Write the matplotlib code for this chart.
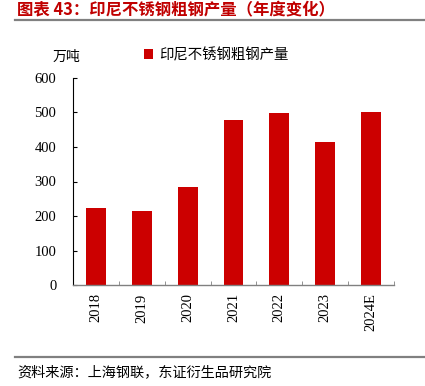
import matplotlib
matplotlib.use("Agg")
import matplotlib.pyplot as plt
from matplotlib.lines import Line2D
import numpy as np

categories = ["2018", "2019", "2020", "2021", "2022", "2023", "2024E"]
values = [222, 214, 283, 478, 498, 415, 501]
yticks = [0, 100, 200, 300, 400, 500, 600]
series_name = "印尼不锈钢粗钢产量"
title = "图表 43：印尼不锈钢粗钢产量（年度变化）"
source = "资料来源：上海钢联，东证衍生品研究院"
unit = "万吨"

cjk = ["Noto Sans CJK SC", "DejaVu Sans"]
serif = ["Liberation Serif", "DejaVu Serif"]
red = "#CC0000"

fig = plt.figure(figsize=(4.25, 3.86), dpi=100)
ax = fig.add_axes([73/425, 1-285/386, 321/425, 207/386])

x = np.arange(len(categories))
ax.bar(x, values, width=0.43, color=red, label=series_name, zorder=2)
ax.set_xlim(-0.5, len(categories) - 0.5)
ax.set_ylim(0, 600)
ax.set_yticks(yticks)
ax.set_yticklabels([str(v) for v in yticks], fontfamily=serif, fontsize=10.5)
ax.set_xticks(x)
ax.set_xticklabels(categories, rotation=90, fontfamily=serif, fontsize=10.5)
ax.tick_params(axis="x", which="major", length=0, pad=6)
ax.set_xticks(np.arange(-0.5, len(categories)), minor=True)
ax.tick_params(axis="x", which="minor", direction="in", length=3, color="#808080")
ax.tick_params(axis="y", direction="in", length=3, pad=12)
for s in ["top", "right"]:
    ax.spines[s].set_visible(False)
ax.spines["left"].set_color("black")
ax.spines["bottom"].set_color("#808080")
ax.spines["left"].set_linewidth(0.8)
ax.spines["bottom"].set_linewidth(1.0)

ax.legend(loc="upper left", bbox_to_anchor=(0.203, 1.175), frameon=False,
          prop={"family": cjk, "size": 10.4}, handlelength=0.65, handleheight=0.65,
          handletextpad=0.4, borderaxespad=0)

fig.text(66/425, 1-57/386, unit, fontfamily=cjk, fontsize=10, ha="center", va="center")

fig.text(17/425, 1-15.5/386, title, fontfamily=cjk, fontsize=11.8, fontweight="bold",
         color="#C00000", ha="left", va="baseline")
fig.add_artist(Line2D([15/425, 1.0], [1-19.5/386, 1-19.5/386], color="#808080", lw=1.6,
                      transform=fig.transFigure))
fig.add_artist(Line2D([15/425, 1.0], [1-357/386, 1-357/386], color="#808080", lw=1.6,
                      transform=fig.transFigure))
fig.text(17/425, 1-372/386, source, fontfamily=cjk, fontsize=10.2, ha="left", va="center")

fig.savefig("out.png", dpi=100)
